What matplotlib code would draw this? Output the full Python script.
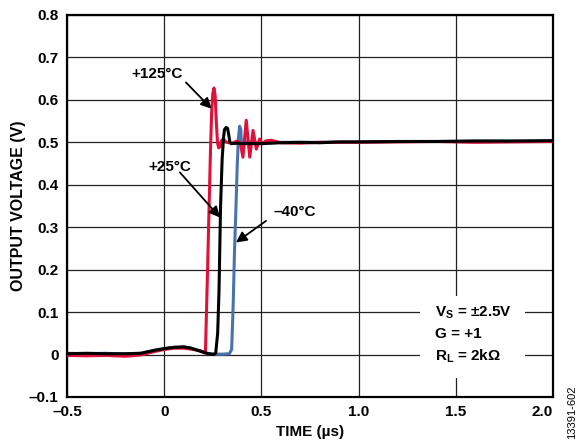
import matplotlib
matplotlib.use('Agg')
import matplotlib.pyplot as plt
from matplotlib.patches import Rectangle

plt.rcParams['font.family'] = ['Liberation Sans', 'DejaVu Sans']
plt.rcParams['font.weight'] = 'bold'
plt.rcParams['mathtext.fontset'] = 'custom'
plt.rcParams['mathtext.rm'] = 'Liberation Sans:bold'
plt.rcParams['mathtext.default'] = 'rm'

# +125C trace (red)
t_red = [-0.5, -0.4, -0.3, -0.2, -0.12, -0.05, 0.0, 0.05, 0.10, 0.15, 0.19, 0.205,
         0.212, 0.222, 0.230, 0.238, 0.244, 0.250, 0.256, 0.262, 0.268, 0.274, 0.280,
         0.288, 0.296, 0.305, 0.32, 0.35, 0.375, 0.392, 0.405, 0.422, 0.440, 0.457,
         0.474, 0.491, 0.505, 0.52, 0.55, 0.6, 0.7, 0.8, 1.0, 1.2, 1.4, 1.6, 1.8, 2.0]
v_red = [-0.002, -0.003, -0.002, -0.004, -0.001, 0.007, 0.012, 0.015, 0.015, 0.012, 0.008, 0.004,
         0.004, 0.18, 0.33, 0.48, 0.57, 0.615, 0.628, 0.61, 0.55, 0.50, 0.487,
         0.49, 0.505, 0.508, 0.500, 0.498, 0.503, 0.497, 0.465, 0.552, 0.465, 0.528,
         0.484, 0.508, 0.496, 0.503, 0.505, 0.499, 0.498, 0.500, 0.500, 0.501, 0.502, 0.500, 0.501, 0.502]

# +25C trace (black)
t_blk = [-0.5, -0.4, -0.3, -0.2, -0.12, -0.05, 0.0, 0.05, 0.10, 0.13, 0.18, 0.22, 0.255,
         0.265, 0.275, 0.282, 0.290, 0.298, 0.305, 0.310, 0.318, 0.326, 0.332, 0.338,
         0.345, 0.38, 0.42, 0.5, 0.6, 0.7, 0.8, 0.9, 1.0, 1.2, 1.4, 1.6, 1.8, 2.0]
v_blk = [0.002, 0.003, 0.002, 0.002, 0.003, 0.010, 0.014, 0.017, 0.018, 0.016, 0.009, 0.003, 0.000,
         0.004, 0.05, 0.15, 0.35, 0.46, 0.51, 0.53, 0.535, 0.533, 0.518, 0.500,
         0.497, 0.498, 0.497, 0.497, 0.499, 0.500, 0.499, 0.501, 0.501, 0.502, 0.502, 0.503, 0.503, 0.504]

# -40C trace (blue)
t_blu = [-0.5, -0.4, -0.3, -0.2, -0.12, -0.05, 0.0, 0.05, 0.10, 0.13, 0.18, 0.22, 0.26,
         0.30, 0.335, 0.347, 0.355, 0.362, 0.368, 0.376, 0.382, 0.388, 0.394, 0.398,
         0.404, 0.41, 0.42, 0.5, 0.6, 0.8, 1.0, 1.2, 1.4, 1.6, 1.8, 2.0]
v_blu = [0.003, 0.002, 0.003, 0.001, 0.003, 0.010, 0.014, 0.017, 0.018, 0.016, 0.009, 0.003, 0.001,
         0.001, 0.002, 0.012, 0.12, 0.25, 0.33, 0.45, 0.51, 0.538, 0.53, 0.49,
         0.48, 0.495, 0.502, 0.498, 0.500, 0.500, 0.501, 0.502, 0.502, 0.503, 0.503, 0.503]

xticks = [-0.5, 0, 0.5, 1.0, 1.5, 2.0]
xlabels = ['\u20130.5', '0', '0.5', '1.0', '1.5', '2.0']
yticks = [-0.1, 0, 0.1, 0.2, 0.3, 0.4, 0.5, 0.6, 0.7, 0.8]
ylabels = ['\u20130.1', '0', '0.1', '0.2', '0.3', '0.4', '0.5', '0.6', '0.7', '0.8']

fig = plt.figure(figsize=(5.8, 4.44), dpi=100)
ax = fig.add_axes([67/580, 1 - 397/444, 486/580, 382/444])

ax.plot(t_blu, v_blu, color='#4a72ad', linewidth=2.2, zorder=3)
ax.plot(t_red, v_red, color='#e0103a', linewidth=2.2, zorder=4)
ax.plot(t_blk, v_blk, color='black', linewidth=2.2, zorder=5)

ax.set_xlim(-0.5, 2.0)
ax.set_ylim(-0.1, 0.8)
ax.set_xticks(xticks)
ax.set_xticklabels(xlabels)
ax.set_yticks(yticks)
ax.set_yticklabels(ylabels)
ax.tick_params(length=0, labelsize=11, pad=6)
ax.get_xticklabels()[-1].set_ha('right')
ax.grid(True, color='#222222', linewidth=0.9)
ax.set_axisbelow(True)
for s in ax.spines.values():
	s.set_linewidth(1.6)

ax.set_xlabel('TIME (\u00b5s)', fontsize=11, fontweight='bold', labelpad=4)
ax.set_ylabel('OUTPUT VOLTAGE (V)', fontsize=11.5, fontweight='bold', labelpad=2)

# condition box
ax.add_patch(Rectangle((1.316, -0.055), 0.54, 0.193, facecolor='white', edgecolor='none', zorder=2))
ax.text(1.393, 0.099, 'V$_\\mathrm{S}$ = \u00b12.5V', fontsize=11, va='center', ha='left', zorder=6)
ax.text(1.393, 0.048, 'G = +1', fontsize=11, va='center', ha='left', zorder=6)
ax.text(1.393, -0.004, 'R$_\\mathrm{L}$ = 2k\u03a9', fontsize=11, va='center', ha='left', zorder=6)

# temperature labels
ap = dict(arrowstyle='-|>', color='black', lw=1.3, mutation_scale=16, shrinkA=0, shrinkB=0)
ax.text(-0.037, 0.660, '+125\u00b0C', fontsize=11, ha='center', va='center', zorder=6)
ax.annotate('', xy=(0.244, 0.579), xytext=(0.112, 0.641), arrowprops=ap, zorder=6)
ax.text(0.03, 0.441, '+25\u00b0C', fontsize=11, ha='center', va='center', zorder=6)
ax.annotate('', xy=(0.287, 0.323), xytext=(0.081, 0.429), arrowprops=ap, zorder=6)
ax.text(0.673, 0.337, '\u201340\u00b0C', fontsize=11, ha='center', va='center', zorder=6)
ax.annotate('', xy=(0.369, 0.264), xytext=(0.524, 0.315), arrowprops=ap, zorder=6)

fig.text(572/580, 1 - 412/444, '13391-602', rotation=90, fontsize=8, fontweight='normal',
	ha='center', va='center')

fig.savefig('out.png', dpi=100)
